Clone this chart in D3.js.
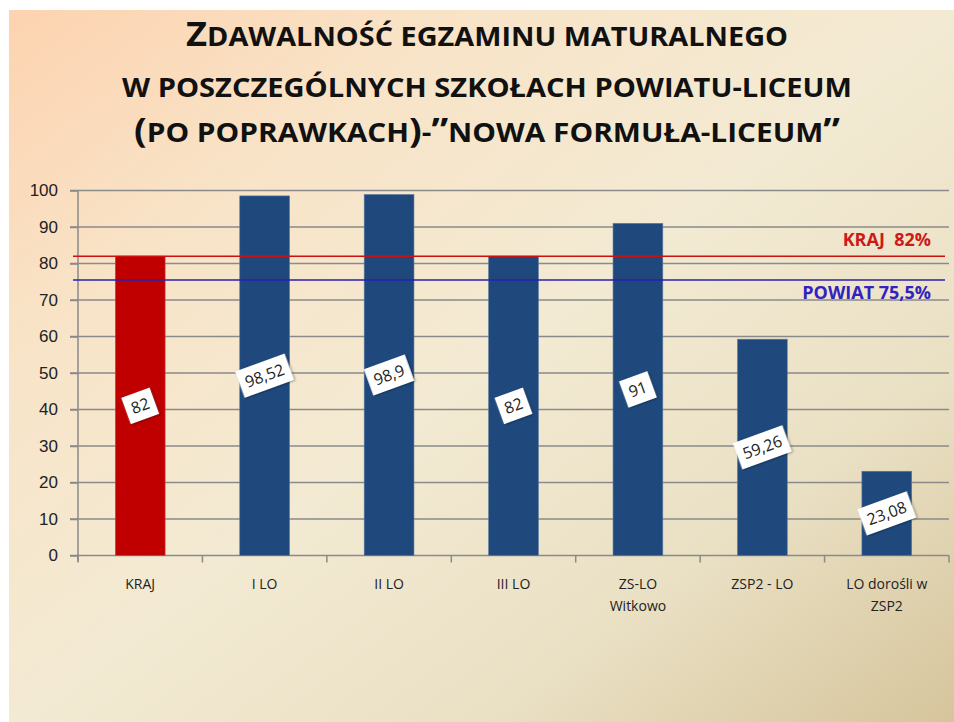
<!DOCTYPE html>
<html lang="pl">
<head>
  <meta charset="UTF-8">
  <title>Zdawalność egzaminu maturalnego</title>
  <script src="https://d3js.org/d3.v7.min.js"></script>
  <style>
    body {
      margin: 0;
      background: #ffffff;
      font-family: "Open Sans", Arial, sans-serif;
    }
    svg { display: block; }
    .title {
      font-weight: bold;
      fill: #111;
    }
    .tick-y text { font-size: 17px; fill: #222; }
    .cat-label { font-size: 14px; fill: #222; }
    .val-label { font-size: 16px; fill: #222; }
  </style>
</head>
<body>
  <svg id="chart"></svg>
  <script>
    // data
    const categories = ["KRAJ", "I LO", "II LO", "III LO", "ZS-LO\nWitkowo", "ZSP2 - LO", "LO dorośli w\nZSP2"];
    const values = [82, 98.52, 98.9, 82, 91, 59.26, 23.08];
    const valueLabels = ["82", "98,52", "98,9", "82", "91", "59,26", "23,08"];
    const yTicks = [0, 10, 20, 30, 40, 50, 60, 70, 80, 90, 100];
    const refLines = [
      { name: "KRAJ  82%", value: 82, color: "#cc1111", text: "#cc1a1a" },
      { name: "POWIAT 75,5%", value: 75.5, color: "#2a1fb0", text: "#3023c0" }
    ];
    const titleLines = [
      "Zdawalność egzaminu maturalnego",
      "w poszczególnych szkołach powiatu-liceum",
      "(po poprawkach)-”nowa formuła-liceum”"
    ];

    const W = 954, H = 722;
    const svg = d3.select("#chart").attr("width", W).attr("height", H);

    // slide background
    const defs = svg.append("defs");
    const grad = defs.append("linearGradient")
      .attr("id", "bg").attr("x1", "0%").attr("y1", "0%").attr("x2", "100%").attr("y2", "100%");
    grad.append("stop").attr("offset", "0%").attr("stop-color", "#fdd3b0");
    grad.append("stop").attr("offset", "25%").attr("stop-color", "#f8e4c8");
    grad.append("stop").attr("offset", "50%").attr("stop-color", "#f3ead3");
    grad.append("stop").attr("offset", "75%").attr("stop-color", "#eae0c4");
    grad.append("stop").attr("offset", "100%").attr("stop-color", "#d6c59c");
    svg.append("rect").attr("x", 9).attr("y", 10).attr("width", W - 9).attr("height", H - 10)
      .attr("fill", "url(#bg)");

    // title: fake small caps - capitals and punctuation big, lower case letters as smaller capitals
    const titleY = [46, 97, 142];
    const titleW = [602, 730, 706];
    titleLines.forEach((t, i) => {
      const txt = svg.append("text")
        .attr("class", "title")
        .attr("x", W / 2 + 10)
        .attr("y", titleY[i])
        .attr("text-anchor", "middle");
      // group characters into runs of same size
      const runs = [];
      for (const ch of t) {
        const big = ch !== ch.toLowerCase() || /[()”"]/.test(ch);
        const last = runs[runs.length - 1];
        if (last && last.big === big) last.s += ch;
        else runs.push({ big, s: ch });
      }
      runs.forEach(r => {
        txt.append("tspan")
          .style("font-size", r.big ? "34px" : "27px")
          .text(r.s.toUpperCase());
      });
      txt.attr("textLength", titleW[i]).attr("lengthAdjust", "spacingAndGlyphs");
    });

    // plot area
    const x0 = 78, x1 = 949, yTop = 190.5, yBot = 555.5;

    const x = d3.scaleBand().domain(categories).range([x0, x1]).paddingInner(0.6).paddingOuter(0.3);
    const y = d3.scaleLinear().domain([0, 100]).range([yBot, yTop]);

    // gridlines
    svg.append("g")
      .selectAll("line")
      .data(yTicks.filter(d => d > 0))
      .join("line")
      .attr("x1", x0 - 8).attr("x2", x1)
      .attr("y1", d => y(d)).attr("y2", d => y(d))
      .attr("stroke", "#8a8a8a").attr("stroke-width", 1.5);

    // y axis
    const yAxis = svg.append("g")
      .attr("class", "tick-y")
      .attr("transform", `translate(${x0},0)`)
      .call(d3.axisLeft(y).tickValues(yTicks).tickSize(8).tickPadding(12));
    yAxis.select(".domain").attr("stroke", "#8a8a8a").attr("stroke-width", 1.5)
      .attr("d", `M0,${yTop}V${yBot + 6}`);
    yAxis.selectAll(".tick line").attr("stroke", "#8a8a8a").attr("stroke-width", 1.5);
    yAxis.selectAll(".tick text").attr("fill", "#222");

    // x axis
    const bounds = d3.range(categories.length + 1).map(i => x0 + i * (x1 - x0) / categories.length);
    svg.append("line")
      .attr("x1", x0 - 8).attr("x2", x1).attr("y1", yBot).attr("y2", yBot)
      .attr("stroke", "#8a8a8a").attr("stroke-width", 1.5);
    svg.append("g").selectAll("line")
      .data(bounds)
      .join("line")
      .attr("x1", d => d).attr("x2", d => d)
      .attr("y1", yBot).attr("y2", yBot + 7)
      .attr("stroke", "#8a8a8a").attr("stroke-width", 1.5);

    // category labels
    svg.append("g").selectAll("text")
      .data(categories)
      .join("text")
      .attr("class", "cat-label")
      .attr("text-anchor", "middle")
      .each(function(d) {
        const cx = x(d) + x.bandwidth() / 2;
        d.split("\n").forEach((line, i) => {
          d3.select(this).append("tspan")
            .attr("x", cx)
            .attr("y", 589 + i * 22)
            .text(line);
        });
      });

    // bars
    svg.append("g").selectAll("rect")
      .data(values)
      .join("rect")
      .attr("x", (d, i) => x(categories[i]))
      .attr("y", d => y(d))
      .attr("width", x.bandwidth())
      .attr("height", d => yBot - y(d))
      .attr("fill", (d, i) => i === 0 ? "#c00000" : "#1f497d")
      .attr("stroke", (d, i) => i === 0 ? "#d84040" : "#5a7aa0")
      .attr("stroke-width", 0.6);

    // reference lines
    refLines.forEach(r => {
      svg.append("line")
        .attr("x1", x0 - 5).attr("x2", x1 - 4)
        .attr("y1", y(r.value)).attr("y2", y(r.value))
        .attr("stroke", r.color).attr("stroke-width", 1.6);
    });
    svg.append("text")
      .attr("x", 931).attr("y", 246)
      .attr("text-anchor", "end")
      .attr("fill", refLines[0].text)
      .style("font-size", "18px").style("font-weight", "bold")
      .attr("xml:space", "preserve")
      .text(refLines[0].name);
    svg.append("text")
      .attr("x", 931).attr("y", 299)
      .attr("text-anchor", "end")
      .attr("fill", refLines[1].text)
      .style("font-size", "18px").style("font-weight", "bold")
      .text(refLines[1].name);

    // value labels, rotated boxes in middle of bars
    const lab = svg.append("g").selectAll("g")
      .data(values)
      .join("g")
      .attr("transform", (d, i) => {
        const cx = x(categories[i]) + x.bandwidth() / 2;
        const cy = y(d / 2);
        return `translate(${cx},${cy}) rotate(-20)`;
      });
    lab.each(function(d, i) {
      const g = d3.select(this);
      const t = g.append("text")
        .attr("class", "val-label")
        .attr("text-anchor", "middle")
        .attr("dy", "0.35em")
        .text(valueLabels[i]);
      const w = t.node().getComputedTextLength();
      g.insert("rect", "text")
        .attr("x", -w / 2 - 6).attr("y", -14)
        .attr("width", w + 12).attr("height", 28)
        .attr("fill", "#fff")
        .style("filter", "drop-shadow(1px 1px 1px rgba(0,0,0,0.35))");
    });
  </script>
</body>
</html>
